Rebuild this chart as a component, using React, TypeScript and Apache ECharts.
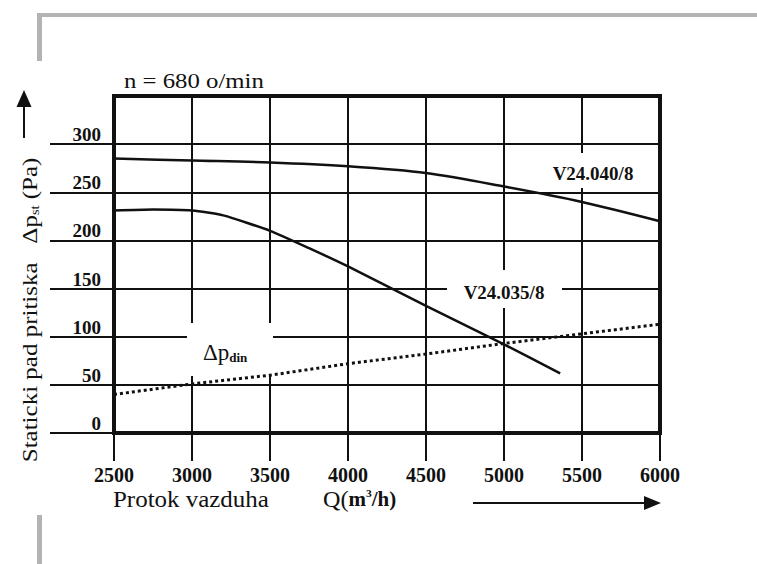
import React, { useEffect, useRef } from 'react';
import * as echarts from 'echarts';

const SERIF = '"Liberation Serif", "Times New Roman", serif';
const INK = '#111111';

// Axis ticks
const qTicks = [2500, 3000, 3500, 4000, 4500, 5000, 5500, 6000];
const pTicks = [0, 50, 100, 150, 200, 250, 300];

// V24.040/8 characteristic
const q040 = [2500, 3000, 3500, 4000, 4500, 5000, 5500, 6000];
const p040 = [285, 283, 281, 277, 270, 256, 240, 220];

// V24.035/8 characteristic
const q035 = [2500, 2750, 3000, 3200, 3500, 3750, 4000, 4500, 5000, 5360];
const p035 = [231, 232, 231, 226, 210, 192, 173, 132, 92, 62];

// dynamic pressure (dotted)
const qDin = [2500, 3000, 3500, 4000, 4500, 5000, 5500, 6000];
const pDin = [40, 51, 60, 72, 82, 93, 103, 113];

const pairs = (xs: number[], ys: number[]) => xs.map((x, i) => [x, ys[i]]);

export default function App() {
  const ref = useRef<HTMLDivElement>(null);
  useEffect(() => {
    const chart = echarts.init(ref.current!, null, { renderer: 'svg' });
    const option: any = {
      animation: false,
      backgroundColor: '#ffffff',
      grid: {
        left: 114,
        right: 97,
        top: 96,
        bottom: 131,
        show: true,
        borderColor: INK,
        borderWidth: 4,
        backgroundColor: 'transparent',
      },
      xAxis: {
        type: 'value',
        min: qTicks[0],
        max: qTicks[qTicks.length - 1],
        interval: 500,
        axisLine: { show: false },
        axisTick: { show: true, length: 28, lineStyle: { color: INK, width: 2 } },
        axisLabel: {
          margin: 32,
          fontFamily: SERIF,
          fontWeight: 'bold',
          fontSize: 20,
          color: INK,
          customValues: qTicks,
          formatter: (v: number) => String(v),
        },
        splitLine: { show: true, lineStyle: { color: INK, width: 2 } },
      },
      yAxis: {
        type: 'value',
        min: 0,
        max: 350,
        interval: 50,
        axisLine: { show: false },
        axisTick: {
          show: true,
          length: 64,
          lineStyle: { color: INK, width: 2 },
          customValues: pTicks,
        },
        axisLabel: {
          margin: 13,
          verticalAlign: 'bottom',
          fontFamily: SERIF,
          fontWeight: 'bold',
          fontSize: 19,
          color: INK,
          customValues: pTicks,
          formatter: (v: number) => (v > 300 ? '' : String(v)),
        },
        splitLine: { show: true, lineStyle: { color: INK, width: 2 } },
      },
      series: [
        {
          name: 'V24.040/8',
          type: 'line',
          data: pairs(q040, p040),
          symbol: 'none',
          smooth: 0.3,
          lineStyle: { color: INK, width: 2.5 },
          z: 5,
        },
        {
          name: 'V24.035/8',
          type: 'line',
          data: pairs(q035, p035),
          symbol: 'none',
          smooth: 0.2,
          lineStyle: { color: INK, width: 2.5 },
          z: 5,
        },
        {
          name: 'Δp din',
          type: 'line',
          data: pairs(qDin, pDin),
          symbol: 'none',
          lineStyle: { color: INK, width: 3, type: [3, 3] },
          z: 5,
        },
      ],
      graphic: [
        // grey page decoration
        { type: 'rect', z: 1, shape: { x: 37, y: 13, width: 720, height: 4 }, style: { fill: '#b3b3b3' } },
        { type: 'rect', z: 1, shape: { x: 37, y: 13, width: 5, height: 48 }, style: { fill: '#b3b3b3' } },
        { type: 'rect', z: 1, shape: { x: 37, y: 515, width: 5, height: 49 }, style: { fill: '#b3b3b3' } },
        // speed label
        {
          type: 'text', z: 10, x: 124, y: 81, scaleX: 1.18,
          style: { text: 'n = 680 o/min', fontFamily: SERIF, fontSize: 21, fill: INK, align: 'left', verticalAlign: 'middle' },
        },
        // up arrow
        { type: 'line', z: 10, shape: { x1: 24, y1: 105, x2: 24, y2: 138 }, style: { stroke: INK, lineWidth: 2 } },
        { type: 'polygon', z: 10, shape: { points: [[24, 90], [16.5, 107], [31.5, 107]] }, style: { fill: INK } },
        // y title
        {
          type: 'text', z: 10, x: 30, y: 310, rotation: Math.PI / 2, scaleX: 1.19,
          style: {
            text: '{a|Staticki pad pritiska   Δp}{s|st}{a| (Pa)}',
            align: 'center', verticalAlign: 'middle', fill: INK,
            rich: {
              a: { fontFamily: SERIF, fontSize: 21, fill: INK },
              s: { fontFamily: SERIF, fontSize: 12, fill: INK, verticalAlign: 'bottom' },
            },
          },
        },
        // Δp din label
        { type: 'rect', z: 3, shape: { x: 187, y: 323, width: 86, height: 53 }, style: { fill: '#ffffff' } },
        {
          type: 'text', z: 10, x: 203, y: 352,
          style: {
            text: '{a|Δp}{b|din}',
            align: 'left', verticalAlign: 'middle', fill: INK,
            rich: {
              a: { fontFamily: SERIF, fontSize: 23, fill: INK },
              b: { fontFamily: SERIF, fontSize: 13, fontWeight: 'bold', fill: INK, verticalAlign: 'bottom' },
            },
          },
        },
        // V24.035/8 label
        { type: 'rect', z: 3, shape: { x: 447, y: 270, width: 115, height: 38 }, style: { fill: '#ffffff' } },
        {
          type: 'text', z: 10, x: 504, y: 292,
          style: { text: 'V24.035/8', fontFamily: SERIF, fontWeight: 'bold', fontSize: 19, fill: INK, align: 'center', verticalAlign: 'middle' },
        },
        // V24.040/8 label
        { type: 'rect', z: 3, shape: { x: 545, y: 153, width: 111, height: 35 }, style: { fill: '#ffffff' } },
        {
          type: 'text', z: 10, x: 593, y: 173,
          style: { text: 'V24.040/8', fontFamily: SERIF, fontWeight: 'bold', fontSize: 19, fill: INK, align: 'center', verticalAlign: 'middle' },
        },
        // x title
        {
          type: 'text', z: 10, x: 113, y: 499, scaleX: 1.04,
          style: { text: 'Protok vazduha', fontFamily: SERIF, fontSize: 24, fill: INK, align: 'left', verticalAlign: 'middle' },
        },
        {
          type: 'text', z: 10, x: 323, y: 499, scaleX: 1.05,
          style: {
            text: '{a|Q(}{b|m}{c|3}{b|/h)}',
            align: 'left', verticalAlign: 'middle', fill: INK,
            rich: {
              a: { fontFamily: SERIF, fontSize: 23, fill: INK },
              b: { fontFamily: SERIF, fontSize: 20, fontWeight: 'bold', fill: INK },
              c: { fontFamily: SERIF, fontSize: 11, fontWeight: 'bold', fill: INK, verticalAlign: 'top' },
            },
          },
        },
        // right arrow
        { type: 'line', z: 10, shape: { x1: 473, y1: 503, x2: 648, y2: 503 }, style: { stroke: INK, lineWidth: 2 } },
        { type: 'polygon', z: 10, shape: { points: [[661, 503], [644, 496], [644, 510]] }, style: { fill: INK } },
      ],
    };
    chart.setOption(option);
    return () => chart.dispose();
  }, []);
  return (
    <div
      ref={ref}
      style={{ position: 'fixed', left: 0, top: 0, width: 757, height: 564, background: '#ffffff' }}
    />
  );
}
